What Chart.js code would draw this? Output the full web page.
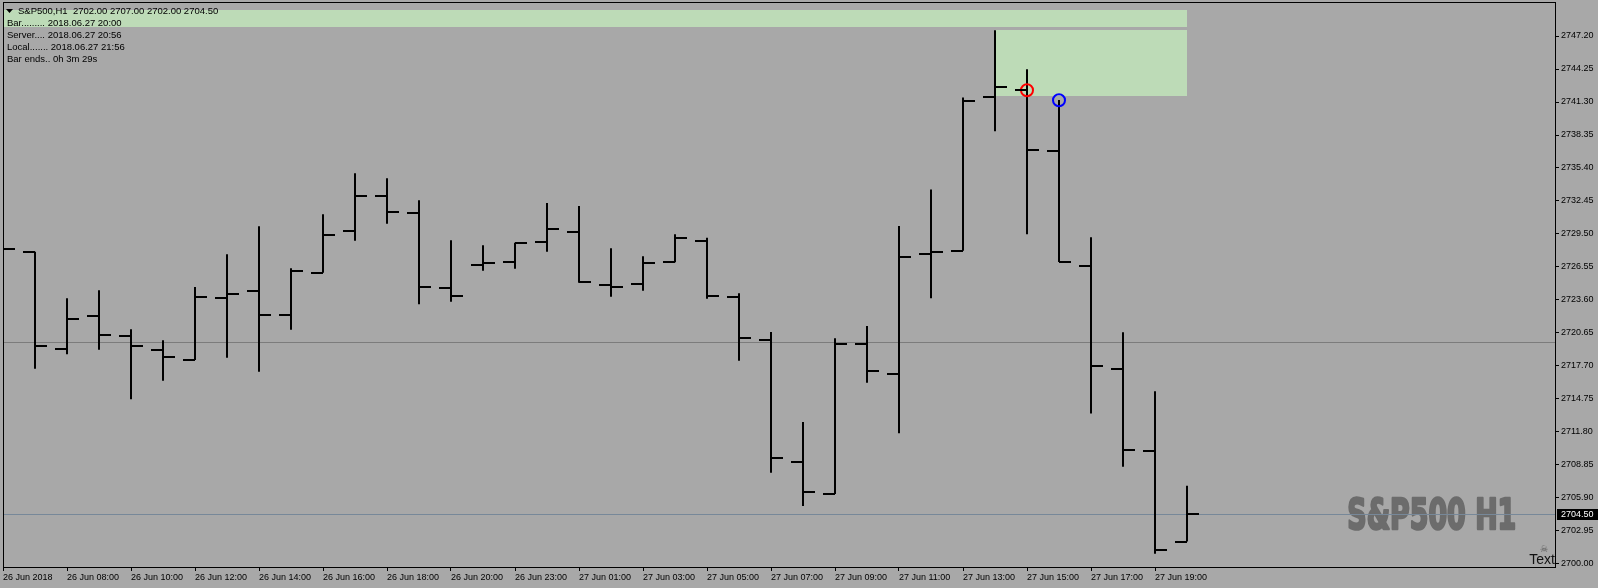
<!DOCTYPE html>
<html>
<head>
<meta charset="utf-8">
<title>S&amp;P500,H1</title>
<script src="https://cdn.jsdelivr.net/npm/chart.js@4.4.1/dist/chart.umd.min.js"></script>
<style>
  html, body { margin: 0; padding: 0; background: #a8a8a8; overflow: hidden; }
  canvas { display: block; }
</style>
</head>
<body>
<canvas id="chart" width="1598" height="588"></canvas>
<script>
// tick labels (one every 2 hourly bars)
const timeLabels = ["26 Jun 2018", "26 Jun 08:00", "26 Jun 10:00", "26 Jun 12:00", "26 Jun 14:00",
  "26 Jun 16:00", "26 Jun 18:00", "26 Jun 20:00", "26 Jun 23:00", "27 Jun 01:00", "27 Jun 03:00",
  "27 Jun 05:00", "27 Jun 07:00", "27 Jun 09:00", "27 Jun 11:00", "27 Jun 13:00", "27 Jun 15:00",
  "27 Jun 17:00", "27 Jun 19:00"];
const priceTicks = ["2700.00", "2702.95", "2705.90", "2708.85", "2711.80", "2714.75", "2717.70",
  "2720.65", "2723.60", "2726.55", "2729.50", "2732.45", "2735.40", "2738.35", "2741.30",
  "2744.25", "2747.20"];

// hourly bars, 26 Jun 06:00 .. 27 Jun 20:00
const opens = [2727.00, 2727.92, 2719.25, 2722.20, 2720.38, 2719.13, 2718.26, 2723.78, 2724.40, 2722.29,
  2726.04, 2729.80, 2732.90, 2731.38, 2724.70, 2726.73, 2726.99, 2728.81, 2729.71, 2724.97,
  2725.06, 2727.00, 2728.90, 2723.90, 2720.00, 2709.12, 2706.29, 2719.70, 2717.02, 2727.70,
  2728.00, 2741.77, 2742.38, 2736.93, 2726.65, 2717.45, 2710.12, 2702.00];
const highs = [2728.52, 2727.92, 2723.75, 2724.46, 2720.98, 2720.00, 2724.76, 2727.68, 2730.19, 2726.43,
  2731.26, 2734.92, 2734.48, 2732.51, 2728.93, 2728.49, 2728.72, 2732.27, 2732.00, 2728.22,
  2727.50, 2729.47, 2729.17, 2724.20, 2720.74, 2712.69, 2720.17, 2721.28, 2730.22, 2733.48,
  2741.70, 2747.71, 2744.23, 2741.49, 2729.20, 2720.71, 2715.44, 2707.00];
const lows = [2725.15, 2717.46, 2718.74, 2719.16, 2714.72, 2716.39, 2718.23, 2718.44, 2717.19, 2720.95,
  2726.04, 2728.90, 2730.42, 2723.21, 2723.45, 2726.22, 2726.40, 2727.92, 2725.15, 2723.90,
  2724.43, 2726.97, 2723.72, 2718.17, 2708.16, 2705.18, 2706.26, 2716.21, 2711.69, 2723.76,
  2728.00, 2738.69, 2729.48, 2726.99, 2713.45, 2708.70, 2700.91, 2702.00];
const closes = [2728.19, 2719.49, 2721.90, 2720.47, 2719.49, 2718.50, 2723.90, 2724.14, 2722.29, 2726.19,
  2729.41, 2732.90, 2731.50, 2724.79, 2723.99, 2726.94, 2728.70, 2729.95, 2725.21, 2724.76,
  2726.91, 2729.14, 2723.96, 2720.20, 2709.50, 2706.44, 2719.70, 2717.28, 2727.45, 2727.88,
  2741.40, 2742.66, 2736.99, 2726.99, 2717.72, 2710.21, 2701.28, 2704.50];

// zones: [fromBar, toBar, upper price, lower price]
const zoneTop = [0, 37, 2749.52, 2748.03];
const zoneHigh = [31, 37, 2747.71, 2741.80];
// markers: [bar, price]
const redMark = [32, 2742.35];
const blueMark = [33, 2741.45];
const levelPrice = 2719.82;
const bidPrice = 2704.50;

const headerTitle = "S&P500,H1  2702.00 2707.00 2702.00 2704.50";
const infoLines = ["Bar......... 2018.06.27 20:00", "Server.... 2018.06.27 20:56",
  "Local....... 2018.06.27 21:56", "Bar ends.. 0h 3m 29s"];

const FONT = "'Liberation Sans', Arial, sans-serif";

const mt4Plugin = {
  id: "mt4",
  beforeDraw(chart) {
    const ctx = chart.ctx;
    ctx.save();
    ctx.fillStyle = "#a8a8a8";
    ctx.fillRect(0, 0, chart.width, chart.height);
    ctx.restore();
  },
  beforeDatasetsDraw(chart) {
    const ctx = chart.ctx, xs = chart.scales.x, ys = chart.scales.y, a = chart.chartArea;
    ctx.save();
    ctx.fillStyle = "#bddbb7";
    [zoneTop, zoneHigh].forEach(z => {
      const x1 = Math.round(xs.getPixelForValue(z[0]));
      const x2 = Math.round(xs.getPixelForValue(z[1]));
      const y1 = Math.round(ys.getPixelForValue(z[2]));
      const y2 = Math.round(ys.getPixelForValue(z[3]));
      ctx.fillRect(x1, y1, x2 - x1, y2 - y1);
    });

    // watermark
    ctx.font = "bold 43px 'Liberation Sans Narrow', 'DejaVu Sans Condensed', sans-serif";
    const w = ctx.measureText("S&P500 H1").width;
    ctx.translate(1517, 529);
    ctx.scale(169 / w, 1);
    ctx.textAlign = "right";
    ctx.textBaseline = "alphabetic";
    ctx.fillStyle = "#6c6c6c";
    ctx.strokeStyle = "#6c6c6c";
    ctx.lineWidth = 2.5;
    ctx.lineJoin = "round";
    ctx.strokeText("S&P500 H1", -1, 0);
    ctx.fillText("S&P500 H1", -1, 0);
    ctx.setTransform(1, 0, 0, 1, 0, 0);

    // horizontal lines
    ctx.lineWidth = 1;
    ctx.strokeStyle = "#7c7c7c";
    let y = Math.round(ys.getPixelForValue(levelPrice)) + 0.5;
    ctx.beginPath(); ctx.moveTo(a.left, y); ctx.lineTo(a.right, y); ctx.stroke();
    ctx.strokeStyle = "#778899";
    y = Math.round(ys.getPixelForValue(bidPrice)) + 0.5;
    ctx.beginPath(); ctx.moveTo(a.left, y); ctx.lineTo(a.right, y); ctx.stroke();
    ctx.restore();
  },
  afterDatasetsDraw(chart) {
    const ctx = chart.ctx, xs = chart.scales.x, ys = chart.scales.y, a = chart.chartArea;
    ctx.save();
    ctx.beginPath();
    ctx.rect(a.left, a.top, a.right - a.left, a.bottom - a.top);
    ctx.clip();
    ctx.fillStyle = "#000";
    for (let i = 0; i < opens.length; i++) {
      const x = Math.round(xs.getPixelForValue(i));
      const yo = Math.round(ys.getPixelForValue(opens[i]));
      const yc = Math.round(ys.getPixelForValue(closes[i]));
      ctx.fillRect(x - 12, yo - 1, 12, 2);
      ctx.fillRect(x, yc - 1, 12, 2);
    }
    ctx.restore();
  },
  afterDraw(chart) {
    const ctx = chart.ctx, ys = chart.scales.y, a = chart.chartArea;
    ctx.save();
    // frame
    ctx.strokeStyle = "#000";
    ctx.lineWidth = 1;
    ctx.strokeRect(a.left + 0.5, a.top + 0.5, a.right - a.left, a.bottom - a.top);

    // header
    ctx.fillStyle = "#000";
    ctx.beginPath();
    ctx.moveTo(6, 9); ctx.lineTo(13, 9); ctx.lineTo(9.5, 13); ctx.closePath(); ctx.fill();
    ctx.font = "9.5px " + FONT;
    ctx.textBaseline = "middle";
    ctx.textAlign = "left";
    ctx.fillText(headerTitle, 18, 11);
    infoLines.forEach((t, k) => ctx.fillText(t, 7, 23 + k * 12));

    // bid price label
    const yb = Math.round(ys.getPixelForValue(bidPrice));
    ctx.fillStyle = "#000";
    ctx.fillRect(a.right + 2, yb - 5, chart.width - a.right - 2, 11);
    ctx.fillStyle = "#fff";
    ctx.font = "9px " + FONT;
    ctx.fillText(bidPrice.toFixed(2), a.right + 6, yb + 0.5);

    // object label
    ctx.fillStyle = "#555";
    ctx.font = "9px 'DejaVu Sans', sans-serif";
    ctx.textAlign = "center";
    ctx.fillText("\u2620", 1544, 550);
    ctx.fillStyle = "#111";
    ctx.font = "14px " + FONT;
    ctx.textAlign = "right";
    ctx.textBaseline = "alphabetic";
    ctx.fillText("Text", a.right, 564);
    ctx.restore();
  }
};

new Chart(document.getElementById("chart"), {
  type: "bar",
  data: {
    datasets: [
      {
        type: "scatter",
        data: [{ x: redMark[0], y: redMark[1] }],
        pointRadius: 6, pointHoverRadius: 6, pointBorderWidth: 2,
        borderColor: "#ff0000", backgroundColor: "rgba(0,0,0,0)",
        order: 1
      },
      {
        type: "scatter",
        data: [{ x: blueMark[0], y: blueMark[1] }],
        pointRadius: 6, pointHoverRadius: 6, pointBorderWidth: 2,
        borderColor: "#0000ff", backgroundColor: "rgba(0,0,0,0)",
        order: 1
      },
      {
        type: "bar",
        data: highs.map((h, i) => ({ x: i, y: [lows[i], h] })),
        backgroundColor: "#000",
        borderWidth: 0,
        barThickness: 2,
        inflateAmount: 0,
        order: 2
      }
    ]
  },
  options: {
    responsive: false,
    animation: false,
    devicePixelRatio: 1,
    layout: { autoPadding: false, padding: { left: 3, top: 2, right: 0, bottom: 0 } },
    plugins: { legend: { display: false }, tooltip: { enabled: false } },
    events: [],
    scales: {
      x: {
        type: "linear",
        min: 0,
        max: 48.5,
        bounds: "data",
        offset: false,
        afterBuildTicks: s => { s.ticks = timeLabels.map((_, k) => ({ value: k * 2 })); },
        afterFit: s => { s.height = 21; s.paddingLeft = 0; s.paddingRight = 0; },
        grid: { offset: false, drawOnChartArea: false, drawTicks: true, tickLength: 4, color: "#000", lineWidth: 1 },
        border: { display: false },
        ticks: {
          autoSkip: false, maxRotation: 0, minRotation: 0, align: "start", padding: 1,
          color: "#000", font: { family: FONT, size: 9 },
          callback: (v, i) => timeLabels[i]
        }
      },
      y: {
        type: "linear",
        position: "right",
        min: 2699.73,
        max: 2750.24,
        bounds: "data",
        beginAtZero: false,
        afterBuildTicks: s => { s.ticks = priceTicks.map(t => ({ value: parseFloat(t) })); },
        afterFit: s => { s.width = 43; s.paddingTop = 0; s.paddingBottom = 0; },
        grid: { drawOnChartArea: false, drawTicks: true, tickLength: 4, color: "#000", lineWidth: 1 },
        border: { display: false },
        ticks: {
          autoSkip: false, padding: 2, color: "#000", font: { family: FONT, size: 9 },
          callback: (v, i) => priceTicks[i]
        }
      }
    }
  },
  plugins: [mt4Plugin]
});
</script>
</body>
</html>
